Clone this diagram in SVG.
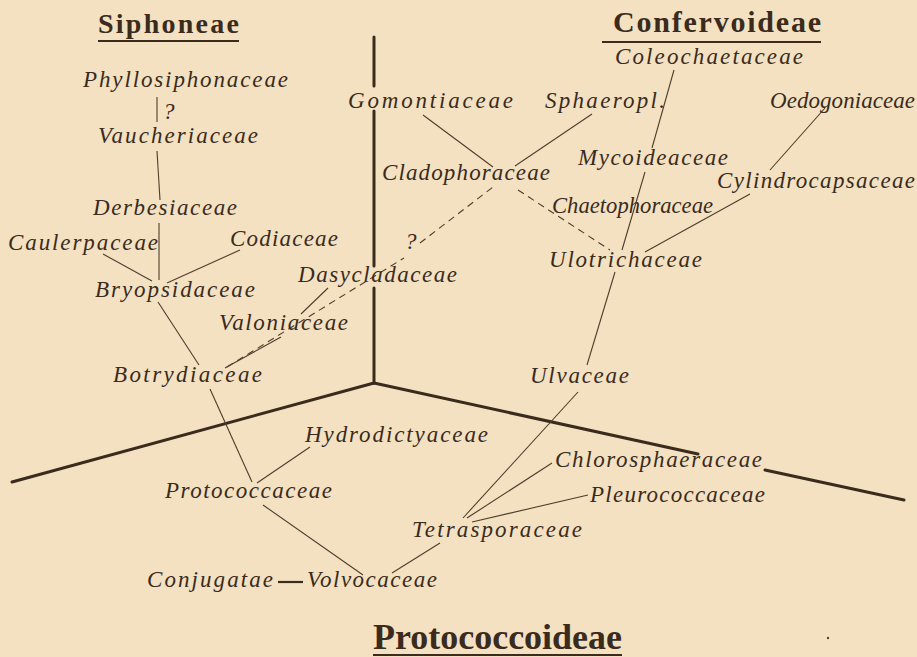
<svg xmlns="http://www.w3.org/2000/svg" width="917" height="657" viewBox="0 0 917 657">
<style>
.t{font-family:"Liberation Serif",serif;font-style:italic;font-size:23px;fill:#3a2b1d}
.h{font-family:"Liberation Serif",serif;font-weight:bold;fill:#3a2b1d}
.ax{stroke:#3a2b1d;stroke-width:3;fill:none;stroke-linecap:round}
.c line{stroke:#4e3d2b;stroke-width:1.1}
.d line{stroke:#4e3d2b;stroke-width:1.1;stroke-dasharray:7 5}
.u{stroke:#3a2b1d;stroke-width:2}
</style>
<rect width="917" height="657" fill="#f3e1c2"/>
<g id="axes">
<line class="ax" x1="374" y1="37" x2="374" y2="86"/>
<line class="ax" x1="374" y1="111" x2="374" y2="266"/>
<line class="ax" x1="374" y1="288" x2="374" y2="383"/>
<line class="ax" x1="374" y1="383" x2="12" y2="482"/>
<line class="ax" x1="374" y1="383" x2="698" y2="454"/>
<line class="ax" x1="765" y1="470" x2="904" y2="500"/>
</g>
<g id="titles">
<g id="Siphoneae"><text class="h" x="98" y="33" font-size="28" textLength="141">Siphoneae</text><line class="u" x1="98" y1="41" x2="239" y2="41"/></g>
<g id="Confervoideae"><text class="h" x="613" y="32" font-size="30" textLength="208">Confervoideae</text><line class="u" x1="602" y1="42" x2="821" y2="42"/></g>
<g id="Protococcoideae"><text class="h" x="373" y="649" font-size="36" textLength="249">Protococcoideae</text><line class="u" x1="373" y1="655" x2="622" y2="655"/></g>
</g>
<g id="connectors">
<g class="c">
<line x1="157" y1="97" x2="157" y2="122"/>
<line x1="157" y1="151" x2="160" y2="200"/>
<line x1="159" y1="223" x2="159" y2="280"/>
<line x1="103" y1="254" x2="152" y2="281"/>
<line x1="240" y1="250" x2="167" y2="283"/>
<line x1="158" y1="302" x2="199" y2="365"/>
<line x1="225" y1="368" x2="281" y2="337"/>
<line x1="301" y1="314" x2="328" y2="288"/>
<line x1="210" y1="389" x2="252" y2="482"/>
<line x1="310" y1="447" x2="257" y2="483"/>
<line x1="263" y1="505" x2="363" y2="575"/>
<line x1="440" y1="543" x2="392" y2="573"/>
<line x1="463" y1="518" x2="578" y2="392"/>
<line x1="467" y1="518" x2="552" y2="463"/>
<line x1="472" y1="522" x2="588" y2="495"/>
<line x1="587" y1="365" x2="615" y2="272"/>
<line x1="622" y1="250" x2="645" y2="172"/>
<line x1="652" y1="148" x2="674" y2="70"/>
<line x1="645" y1="252" x2="750" y2="194"/>
<line x1="770" y1="170" x2="825" y2="108"/>
<line x1="423" y1="115" x2="493" y2="167"/>
<line x1="592" y1="114" x2="515" y2="166"/>
<line x1="278" y1="582" x2="303" y2="582" style="stroke-width:2.2;stroke:#3a2b1d"/>
</g>
<g class="d">
<line x1="227" y1="367" x2="404" y2="258"/>
<line x1="420" y1="243" x2="493" y2="187"/>
<line x1="518" y1="190" x2="610" y2="250"/>
</g>
</g>
<g id="q1"><text class="t" x="163" y="119" font-size="15">?</text></g>
<g id="q2"><text class="t" x="405" y="249" font-size="18">?</text></g>
<g id="Phyllosiphonaceae"><text class="t" x="83" y="87" textLength="205">Phyllosiphonaceae</text></g>
<g id="Vaucheriaceae"><text class="t" x="98" y="143" textLength="160">Vaucheriaceae</text></g>
<g id="Derbesiaceae"><text class="t" x="93" y="215" textLength="144">Derbesiaceae</text></g>
<g id="Caulerpaceae"><text class="t" x="8" y="250" textLength="150">Caulerpaceae</text></g>
<g id="Codiaceae"><text class="t" x="230" y="246" textLength="108">Codiaceae</text></g>
<g id="Bryopsidaceae"><text class="t" x="95" y="297" textLength="160">Bryopsidaceae</text></g>
<g id="Valoniaceae"><text class="t" x="219" y="330" textLength="129">Valoniaceae</text></g>
<g id="Dasycladaceae"><text class="t" x="298" y="282" textLength="159">Dasycladaceae</text></g>
<g id="Botrydiaceae"><text class="t" x="113" y="382" textLength="149">Botrydiaceae</text></g>
<g id="Gomontiaceae"><text class="t" x="348" y="108" textLength="165">Gomontiaceae</text></g>
<g id="Sphaeropl"><text class="t" x="545" y="108" textLength="120">Sphaeropl.</text></g>
<g id="Cladophoraceae"><text class="t" x="382" y="180" textLength="168">Cladophoraceae</text></g>
<g id="Coleochaetaceae"><text class="t" x="615" y="64" textLength="188">Coleochaetaceae</text></g>
<g id="Oedogoniaceae"><text class="t" x="770" y="108" textLength="145">Oedogoniaceae</text></g>
<g id="Mycoideaceae"><text class="t" x="578" y="165" textLength="150">Mycoideaceae</text></g>
<g id="Cylindrocapsaceae"><text class="t" x="717" y="188" textLength="198">Cylindrocapsaceae</text></g>
<g id="Chaetophoraceae"><text class="t" x="552" y="213" textLength="161" lengthAdjust="spacingAndGlyphs">Chaetophoraceae</text></g>
<g id="Ulotrichaceae"><text class="t" x="549" y="267" textLength="153">Ulotrichaceae</text></g>
<g id="Ulvaceae"><text class="t" x="530" y="383" textLength="99">Ulvaceae</text></g>
<g id="Hydrodictyaceae"><text class="t" x="305" y="442" textLength="183">Hydrodictyaceae</text></g>
<g id="Protococcaceae"><text class="t" x="165" y="498" textLength="167">Protococcaceae</text></g>
<g id="Chlorosphaeraceae"><text class="t" x="555" y="467" textLength="207">Chlorosphaeraceae</text></g>
<g id="Pleurococcaceae"><text class="t" x="590" y="502" textLength="175">Pleurococcaceae</text></g>
<g id="Tetrasporaceae"><text class="t" x="412" y="537" textLength="170">Tetrasporaceae</text></g>
<g id="Conjugatae"><text class="t" x="147" y="587" textLength="126">Conjugatae</text></g>
<g id="Volvocaceae"><text class="t" x="307" y="587" textLength="130">Volvocaceae</text></g>
<circle cx="828" cy="638" r="1.2" fill="#5a4632"/>
</svg>
